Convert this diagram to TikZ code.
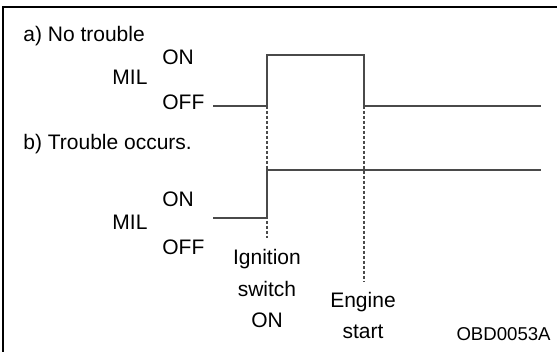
\documentclass[tikz,border=0pt]{standalone}
\usepackage{fontspec}
\setmainfont{Liberation Sans}
\usetikzlibrary{positioning}

\definecolor{sigcol}{HTML}{4A4A4A}
\tikzset{
  sig/.style={draw=sigcol, line width=0.7pt},
  marker/.style={draw=sigcol, line width=0.6pt, dash pattern=on 1.6pt off 0.9pt},
  lbl/.style={inner sep=0pt, anchor=base, font=\fontsize{10.5}{12}\selectfont},
  lblw/.style={lbl, anchor=base west},
}

\begin{document}
\begin{tikzpicture}[x=0.5pt,y=-0.5pt]
\useasboundingbox (0,0) rectangle (557,352);
\draw[line width=0.9pt] (3,352) -- (3,7) -- (557,7);

% levels of both traces
\coordinate (a_off) at (213,106);
\coordinate (a_on)  at (267,55);
\coordinate (a_end) at (541,106);
\coordinate (b_off) at (213,218);
\coordinate (b_on)  at (267,170);
\coordinate (b_end) at (541,170);
\coordinate (ign)   at (267,238);
\coordinate (eng)   at (364,282);

% texts
\node[lblw] (ta) at (23,42)  {a) No trouble};
\node[lblw] (tb) at (23,150) {b) Trouble occurs.};
\node[lblw] (on_a)  at (162,65)  {ON};
\node[lbl]  (mil_a) at (130,85)  {MIL};
\node[lblw] (off_a) at (162,110) {OFF};
\node[lblw] (on_b)  at (162,207) {ON};
\node[lbl]  (mil_b) at (130,230) {MIL};
\node[lblw] (off_b) at (162,255) {OFF};
\node[lbl] (ign1) at (267,265) {Ignition};
\node[lbl] (ign2) at (267,297) {switch};
\node[lbl] (ign3) at (267,328) {ON};
\node[lbl] (eng1) at (363,307) {Engine};
\node[lbl] (eng2) at (363,338) {start};
\node[lbl, anchor=base east, font=\fontsize{9.3}{11}\selectfont] (code) at (551,341) {OBD0053A};

% event markers
\draw[marker] (a_off -| a_on) -- (ign);
\draw[marker] (a_off -| eng) -- (eng);

% traces
\draw[sig] (a_off) -- (a_off -| a_on) -- (a_on) -- (a_on -| eng)
  -- (a_off -| eng) -- (a_end);
\draw[sig] (b_off) -- (b_off -| b_on) -- (b_on) -- (b_end);
\end{tikzpicture}
\end{document}
